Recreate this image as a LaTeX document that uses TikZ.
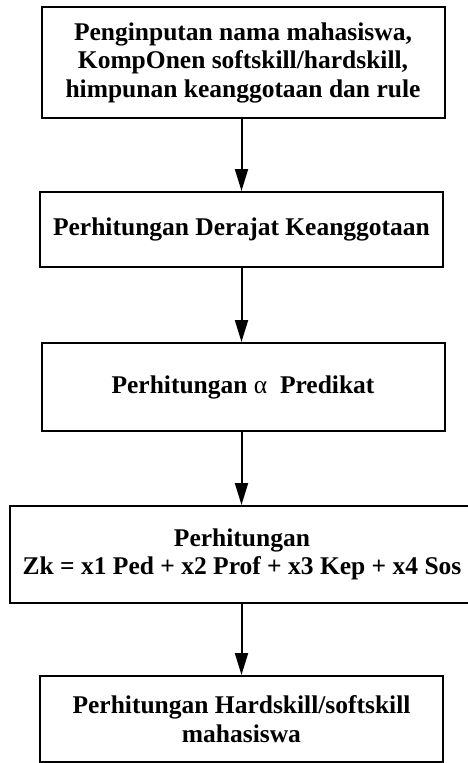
\documentclass[tikz,border=0pt]{standalone}
\usepackage{fontspec}
\setmainfont{Liberation Serif}
\usetikzlibrary{arrows.meta}
\begin{document}
\begin{tikzpicture}[x=1pt,y=-1pt,
  box/.style={draw=black,line width=2pt,rectangle,inner sep=0pt,align=center,
    font=\fontsize{25.5}{28.5}\selectfont\bfseries,text=black},
  arr/.style={draw=black,line width=2pt,-{Triangle[length=22pt,width=13pt]}}]
\useasboundingbox (0,0) rectangle (467,763);
\node[box,minimum width=403pt,minimum height=111pt] (b1) at (243,62.5)
  {Penginputan nama mahasiswa,\\KompOnen softskill/hardskill,\\himpunan keanggotaan dan rule};
\node[box,minimum width=403pt,minimum height=75pt] (b2) at (241.5,229.5)
  {Perhitungan Derajat Keanggotaan};
\node[box,minimum width=403pt,minimum height=88pt] (b3) at (243,387)
  {Perhitungan {\mdseries α}\ \ Predikat};
\node[box,minimum width=464pt,minimum height=97pt] (b4) at (242,554.5)
  {Perhitungan\\Zk = x1 Ped + x2 Prof + x3 Kep + x4 Sos};
\node[box,minimum width=403pt,minimum height=86pt] (b5) at (241.5,719)
  {Perhitungan Hardskill/softskill\\mahasiswa};
\draw[arr] (b1.south -| b2.north) -- (b2.north);
\draw[arr] (b2.south) -- (b3.north -| b2.south);
\draw[arr] (b3.south -| b2.south) -- (b4.north -| b2.south);
\draw[arr] (b4.south -| b2.south) -- (b5.north);
\end{tikzpicture}
\end{document}
